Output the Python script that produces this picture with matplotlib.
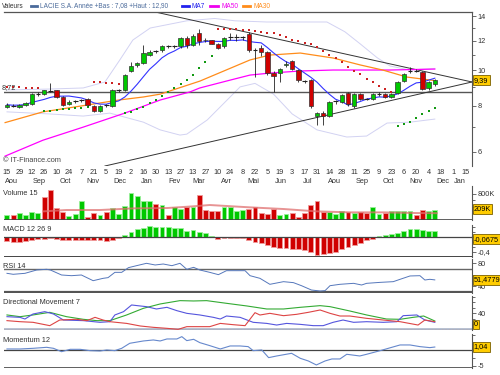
import numpy as np
import pandas as pd
import matplotlib
matplotlib.use("Agg")
import matplotlib.pyplot as plt
from matplotlib.lines import Line2D
from matplotlib.transforms import blended_transform_factory

# =========================
# GEOMETRY (pixels)
# =========================
W, H = 500, 375
LEFT, RIGHT = 4, 472
XMIN, XMAX = -0.48, 75.0

plt.rcParams["font.family"] = ["Liberation Sans", "DejaVu Sans"]
FS = 5.3
FS_TOP = 4.7

# =========================
# DATA (weekly, from 2005-08-15)
# =========================
START = np.datetime64("2005-08-15")

opens = [7.95, 8.0, 7.95, 8.05, 8.1, 8.6, 8.6, 8.8, 8.8, 8.45,
         8.1, 8.22, 8.25, 8.35, 8.0, 7.75, 8.0, 8.0, 8.8, 8.8,
         9.95, 10.3, 10.45, 11.0, 11.25, 11.3, 11.6, 11.6, 11.6, 12.25,
         11.7, 12.6, 12.05, 12.05, 11.8, 11.6, 12.28, 12.3, 12.3, 12.5,
         11.33, 11.5, 11.2, 9.8, 9.8, 10.3, 10.6, 10.0, 9.35, 9.4,
         7.5, 7.65, 7.5, 8.2, 8.2, 8.65, 8.0, 8.6, 8.35, 8.35,
         8.6, 8.6, 8.45, 8.65, 9.35, 9.9, 9.95, 9.9, 8.95, 9.15]
highs = [8.15, 8.1, 8.1, 8.2, 8.65, 8.7, 8.85, 9.25, 8.85, 8.5,
         8.3, 8.3, 8.35, 8.4, 8.05, 8.05, 8.1, 8.9, 8.9, 9.75,
         10.5, 10.5, 11.7, 11.3, 11.35, 11.7, 11.7, 11.7, 12.3, 12.35,
         12.5, 12.9, 12.2, 12.1, 11.85, 12.3, 12.6, 12.5, 12.4, 12.7,
         11.5, 11.7, 11.25, 9.95, 10.1, 10.6, 10.65, 10.05, 9.4, 9.45,
         7.7, 7.75, 8.25, 8.3, 8.6, 8.7, 8.65, 8.65, 8.4, 8.65,
         8.7, 8.65, 8.65, 9.35, 9.8, 10.2, 10.05, 9.95, 9.35, 9.45]
lows = [7.9, 7.95, 7.9, 8.0, 8.05, 8.5, 8.55, 8.7, 8.4, 8.0,
        8.05, 8.15, 8.2, 8.0, 7.7, 7.7, 7.95, 7.95, 8.7, 8.75,
        9.9, 10.2, 10.4, 10.9, 11.15, 11.2, 11.5, 11.5, 11.5, 11.5,
        11.6, 11.7, 11.95, 11.75, 11.4, 11.5, 12.1, 12.0, 12.1, 11.2,
        9.6, 10.9, 9.7, 8.7, 9.3, 10.2, 10.0, 9.3, 9.2, 7.9,
        7.1, 7.08, 7.45, 8.1, 8.15, 8.0, 7.9, 8.3, 8.3, 8.3,
        8.5, 8.4, 8.4, 8.6, 9.3, 9.8, 9.85, 8.85, 8.8, 9.05]
closes = [8.05, 8.0, 8.05, 8.15, 8.6, 8.62, 8.8, 8.78, 8.45, 8.05,
          8.2, 8.25, 8.27, 8.05, 7.75, 8.0, 8.02, 8.8, 8.82, 9.7,
          10.25, 10.45, 11.1, 11.2, 11.25, 11.6, 11.62, 11.62, 12.2, 11.7,
          12.4, 12.0, 12.1, 11.8, 11.5, 12.2, 12.3, 12.3, 12.3, 11.3,
          11.35, 11.2, 9.8, 9.65, 10.05, 10.4, 10.05, 9.4, 9.35, 8.0,
          7.65, 7.5, 8.2, 8.22, 8.55, 8.1, 8.6, 8.35, 8.36, 8.6,
          8.62, 8.45, 8.6, 9.3, 9.75, 9.92, 9.95, 8.9, 9.3, 9.39]

# moving averages / bands read as (week, value) points
ma30_weeks = [-0.3, 5.8, 12.0, 18.0, 22.0, 24.7, 31.1, 39.2, 42.4, 47.3, 52.6, 57.0, 60.6, 64.5, 69.0]
ma30_vals = [7.2, 7.7, 7.99, 8.29, 8.45, 8.6, 9.33, 10.65, 10.98, 11.12, 10.78, 10.32, 10.0, 9.57, 9.36]
ma50_weeks = [-0.3, 5.8, 12.3, 19.0, 24.7, 29.5, 31.1, 36.0, 39.2, 42.4, 47.3, 52.6, 61.8, 69.0]
ma50_vals = [5.84, 6.45, 7.0, 7.64, 8.29, 8.72, 8.94, 9.39, 9.69, 9.81, 9.94, 10.0, 10.0, 10.06]
bb_up_weeks = [0, 6.9, 12.3, 15.8, 18.2, 20.3, 23.1, 29.0, 33.5, 36.8, 41.9, 47.3, 51.6, 54.5, 56.9, 59.7, 61.8, 65.0, 69.0]
bb_up_vals = [8.83, 8.88, 8.94, 9.28, 10.65, 12.06, 13.0, 13.6, 13.8, 13.6, 13.5, 13.5, 13.5, 12.7, 11.8, 10.8, 10.25, 10.0, 10.1]
bb_lo_weeks = [0, 6.9, 12.3, 16.6, 22.0, 24.7, 27.9, 29.0, 32.3, 35.5, 37.6, 40.0, 43.0, 46.0, 50.0, 54.8, 58.0, 61.3, 65.0, 69.0]
bb_lo_vals = [7.7, 7.6, 7.5, 7.64, 7.22, 6.88, 6.66, 6.7, 7.32, 8.29, 9.0, 9.2, 8.6, 7.6, 6.88, 6.58, 6.62, 7.18, 7.22, 7.36]

# parabolic SAR
sar_bear_weeks = [0, 1, 2, 3, 4, 5, 14, 15, 16, 17, 18] + list(range(34, 63))
sar_bear_vals = [9.0, 9.0, 8.98, 8.96, 8.94, 8.92, 9.28, 9.26, 9.24, 9.22, 9.18,
                 12.95, 12.93, 12.91, 12.89, 12.87,
                 12.84, 12.76, 12.7, 12.63, 12.58, 12.45, 12.31, 12.06, 12.01, 11.86,
                 11.74, 11.52, 11.26, 10.98, 10.8, 10.53, 10.21, 9.96, 9.75, 9.45,
                 9.26, 9.05, 8.86, 8.72]
sar_bull_weeks = list(range(6, 14)) + list(range(19, 34)) + list(range(63, 70))
sar_bull_vals = [7.72, 7.74, 7.78, 7.82, 7.86, 7.88, 7.9, 7.92,
                 7.64, 7.69, 7.84, 7.94, 8.14, 8.29, 8.5, 8.72, 8.94, 9.16, 9.4, 9.7, 10.1, 10.5, 10.9,
                 7.05, 7.14, 7.22, 7.41, 7.6, 7.74, 7.89]

# trend lines (week, price) and support level
trend_down_weeks = [23.9, 75.0]
trend_down_vals = [14.37, 9.28]
trend_up_weeks = [15.8, 75.0]
trend_up_vals = [5.49, 9.28]
support_level = 8.72

# volume (thousands)
volume_k = [153, 153, 214, 163, 235, 214, 697, 933, 368, 255,
            132, 184, 574, 81, 214, 153, 255, 368, 184, 420,
            820, 727, 594, 594, 491, 471, 153, 389, 338, 389,
            389, 768, 317, 266, 266, 389, 389, 266, 307, 338,
            389, 214, 184, 338, 153, 184, 204, 102, 214, 471,
            594, 235, 235, 184, 286, 235, 204, 235, 204, 389,
            184, 204, 286, 286, 286, 266, 163, 317, 286, 317]
volume_dir = ("grggggrrrrgggrrgrggg"
              "ggggrgrggrgrrrrggggr"
              "rrrrggrrrrrrgggrgrrg"
              "grggggrrgg")
vol_ma_weeks = [5.9, 9.6, 15, 20.4, 25.8, 30, 32.7, 39.2, 44.6, 49.9, 55.3, 60.7, 66.1, 69.3]
vol_ma_k = [266, 307, 307, 358, 368, 420, 461, 389, 338, 266, 235, 235, 214, 209]

macd = [-0.115, -0.131, -0.131, -0.115, -0.087, -0.069, -0.060, -0.042, -0.060, -0.087,
        -0.087, -0.087, -0.087, -0.087, -0.087, -0.087, -0.105, -0.087, -0.042, 0.045,
        0.116, 0.196, 0.241, 0.285, 0.268, 0.268, 0.250, 0.223, 0.223, 0.161,
        0.179, 0.134, 0.089, 0.010, -0.069, -0.025, -0.025, -0.025, -0.042, -0.087,
        -0.13, -0.18, -0.22, -0.27, -0.29, -0.31, -0.32, -0.34, -0.36, -0.42,
        -0.49, -0.47, -0.44, -0.40, -0.33, -0.27, -0.22, -0.16, -0.10, -0.05,
        0.03, 0.04, 0.07, 0.11, 0.16, 0.20, 0.21, 0.17, 0.15, 0.15]

rsi_weeks = [0, 1.0, 2.9, 4.8, 6.4, 7.0, 8.8, 10.4, 12.0, 13.9, 15.5, 16.3, 17.4, 18.5, 19.6,
             20.9, 22.5, 23.9, 25.2, 26.6, 27.9, 29.0, 30.1, 31.1, 32.7, 34.1, 35.4, 38.4, 39.2,
             40.8, 42.4, 44.6, 46.2, 47.5, 49.1, 50.5, 51.3, 52.1, 53.7, 55.9, 57.2, 58.0, 60.2,
             62.3, 63.4, 65.0, 66.6, 67.4, 68.2, 69.0]
rsi_vals = [62.9, 61.2, 62.9, 68.7, 69.9, 68.7, 60.0, 58.8, 60.0, 50.1, 54.2, 55.4, 64.6, 64.6, 72.8,
            76.2, 80.3, 77.4, 79.1, 76.2, 80.3, 69.9, 73.3, 68.7, 64.6, 60.6, 67.5, 67.5, 58.8,
            54.2, 43.8, 48.4, 46.7, 41.4, 33.9, 32.2, 32.8, 41.4, 43.8, 45.5, 42.6, 45.5, 47.2,
            48.4, 52.5, 58.3, 58.8, 51.3, 52.5, 51.48]

dm_adx_weeks = [0, 2.1, 4.2, 6.9, 9.6, 12.3, 14.5, 16.6, 19.3, 22.0, 24.7, 27.9, 30.1, 32.2, 35.4,
                38.7, 41.9, 44.6, 47.3, 50.5, 52.1, 55.3, 58.0, 61.2, 63.4, 65.5, 67.2, 69.0]
dm_adx_vals = [36.0, 31.9, 36.0, 42.3, 31.9, 25.6, 22.4, 22.4, 36.0, 51.9, 62.3, 70.3, 69.5, 70.3, 63.9,
               57.5, 50.3, 50.3, 54.3, 58.3, 55.9, 45.5, 36.0, 26.3, 25.6, 30.3, 33.5, 21.6]
dm_plus_weeks = [0, 2.1, 2.9, 4.2, 6.1, 7.5, 9.1, 12.3, 15.0, 16.6, 17.4, 18.8, 20.1, 21.5, 22.5,
                 24.1, 25.8, 27.4, 29.0, 31.1, 33.3, 34.4, 35.4, 37.6, 39.7, 41.9, 43.5, 45.1, 47.3,
                 49.4, 51.0, 52.6, 54.2, 55.9, 58.0, 60.7, 62.9, 63.9, 66.1, 67.4, 69.0]
dm_plus_vals = [31.9, 30.3, 26.3, 38.3, 43.9, 38.3, 23.9, 22.4, 18.4, 19.9, 36.0, 43.9, 59.9, 57.5, 55.9,
                50.3, 54.3, 46.3, 39.9, 36.0, 30.3, 26.3, 33.5, 30.3, 18.4, 15.8, 11.9, 15.8, 13.5,
                10.4, 10.4, 18.4, 23.9, 18.4, 19.9, 18.4, 19.9, 34.3, 36.0, 23.9, 18.4]
dm_minus_weeks = [0, 2.1, 4.2, 6.9, 8.5, 11.2, 12.9, 14.2, 15.5, 16.6, 19.3, 21.5, 23.6, 25.8, 27.6,
                  29.0, 31.1, 32.7, 34.4, 36.5, 38.4, 40.0, 40.8, 42.4, 44.6, 46.7, 48.6, 50.5, 52.1,
                  53.7, 55.3, 58.0, 60.7, 63.4, 66.3, 67.4, 69.0]
dm_minus_vals = [22.4, 19.9, 18.4, 10.4, 23.9, 25.6, 22.4, 30.3, 23.9, 19.9, 15.8, 9.6, 6.4, 4.0, 1.6,
                 8.0, 8.0, 8.0, 15.8, 12.7, 10.4, 41.5, 35.9, 39.9, 34.3, 37.5, 42.3, 47.9, 39.9,
                 33.5, 33.5, 27.9, 23.9, 19.9, 11.9, 23.9, 19.9]

mom_weeks = [0, 2.1, 4.2, 6.4, 7.5, 8.8, 10.2, 11.8, 13.4, 15.0, 16.1, 17.4, 18.5, 19.8, 22.0,
             23.6, 24.7, 25.8, 27.4, 28.2, 29.0, 30.1, 31.1, 32.7, 34.4, 36.0, 37.6, 38.9, 39.7,
             41.1, 42.2, 43.5, 45.9, 47.3, 48.6, 49.9, 51.3, 52.4, 53.7, 54.8, 56.9, 58.0, 60.2,
             61.5, 63.4, 65.0, 66.6, 68.2, 69.0]
mom_vals = [0.42, 0.42, 0.63, 0.95, 0.63, -0.44, 0.31, 0.31, -0.11, -0.22, 0.10, -0.11, 0.63, 2.23, 2.97,
            3.29, 2.97, 3.61, 3.61, 4.35, 3.08, 3.50, 2.44, 1.49, 0.42, 1.38, 1.38, 1.17, -0.11,
            0.10, -2.34, -1.81, -0.96, -2.55, -3.40, -4.67, -3.40, -2.76, -2.76, -1.27, -1.81, -1.27, -0.11,
            0.63, 1.70, 1.70, 1.17, 0.85, 1.04]

MONTHS_FR = ["Jan", "Fev", "Mar", "Avr", "Mai", "Jun", "Jul", "Aou", "Sep", "Oct", "Nov", "Dec"]

# colours
GREEN, RED = "#00c800", "#d00000"
AXIS = "#555555"
TXT = "#333333"
BAND = "#d2d2f2"


def fx(x):
    return x / W


def fy(y):
    return 1 - y / H


def panel(fig, top, bottom):
    ax = fig.add_axes([fx(LEFT), fy(bottom), (RIGHT - LEFT) / W, (bottom - top) / H])
    ax.set_xlim(XMIN, XMAX)
    for s in ["left", "top", "bottom"]:
        ax.spines[s].set_visible(False)
    ax.spines["right"].set_color(AXIS)
    ax.spines["right"].set_linewidth(0.8)
    ax.yaxis.tick_right()
    ax.tick_params(axis="y", which="both", direction="out", colors=AXIS,
                   labelcolor=TXT, labelsize=FS, pad=1, width=0.6)
    ax.tick_params(axis="y", which="major", length=3)
    ax.tick_params(axis="y", which="minor", length=2)
    ax.set_xticks([])
    ax.patch.set_alpha(0)
    return ax


def value_box(ax, y, text, data=True):
    tr = blended_transform_factory(ax.transAxes, ax.transData if data else ax.transAxes)
    ax.text(1.004, y, text, transform=tr, fontsize=FS, va="center", ha="left", color="#000",
            bbox=dict(boxstyle="square,pad=0.18", fc="#ffcc00", ec="#7a6000", lw=0.6),
            clip_on=False, zorder=10)


def bars(ax, vals, colors, width=0.8):
    x = np.arange(len(vals))
    face = [GREEN if c == "g" else RED for c in colors]
    edge = ["#9af09a" if c == "g" else "#f09a9a" for c in colors]
    ax.bar(x, vals, width=width, color=face, edgecolor=edge, linewidth=0.6, zorder=2)


# =========================
# FIGURE
# =========================
fig = plt.figure(figsize=(W / 100, H / 100), dpi=100)

# ---- main price panel ----
ax = panel(fig, 12, 166)
ax.set_yscale("log")
ax.set_ylim(5.49, 14.37)
ax.spines["top"].set_visible(True)
ax.spines["top"].set_color(AXIS)
ax.spines["top"].set_linewidth(0.9)
ax.set_yticks([6, 8, 10, 12, 14])
ax.set_yticklabels(["6", "8", "10", "12", "14"])
ax.set_yticks([7, 9, 11, 13], minor=True)
ax.set_yticklabels([], minor=True)

ax.plot(bb_up_weeks, bb_up_vals, color=BAND, lw=0.7, zorder=1)
ax.plot(bb_lo_weeks, bb_lo_vals, color=BAND, lw=0.7, zorder=1)
ax.axhline(support_level, color="#555", lw=1.0, zorder=1)
ax.plot(trend_down_weeks, trend_down_vals, color="#333", lw=0.7, zorder=2)
ax.plot(trend_up_weeks, trend_up_vals, color="#333", lw=0.7, zorder=2)
ax.plot(ma50_weeks, ma50_vals, color="#ff00ff", lw=0.9, zorder=3)
ax.plot(ma30_weeks, ma30_vals, color="#ff8c1a", lw=0.9, zorder=3)
ma7 = pd.Series(closes).rolling(7, min_periods=1).mean()
ax.plot(np.arange(len(closes)), ma7, color="#3333ff", lw=0.8, zorder=3)

ax.plot(sar_bear_weeks, sar_bear_vals, ls="none", marker="s", ms=2.1, color="#cc2222", mew=0, zorder=4)
ax.plot(sar_bull_weeks, sar_bull_vals, ls="none", marker="s", ms=2.1, color="#119911", mew=0, zorder=4)

for i, (o, h, l, c) in enumerate(zip(opens, highs, lows, closes)):
    ax.vlines(i, l, h, color="#222", lw=0.6, zorder=5)
    if abs(c - o) / o < 0.004:
        ax.hlines(c, i - 0.38, i + 0.38, color="#222", lw=0.8, zorder=6)
    else:
        ax.bar(i, abs(c - o), bottom=min(o, c), width=0.72,
               color=GREEN if c > o else RED, edgecolor="#333", lw=0.5, zorder=6)

value_box(ax, closes[-1], "9,39")

# date axis
tick_weeks = np.arange(0, 75, 2)
tick_dates = START + tick_weeks * 7
day_labels = [str(int(str(d)[8:10])) for d in tick_dates.astype("datetime64[D]")]
trx = blended_transform_factory(ax.transData, ax.transAxes)
for wk, lab in zip(tick_weeks, day_labels):
    ax.text(wk, (166 - 172.5) / 154, lab, transform=trx, fontsize=FS, ha="center", va="center", color=TXT)

months = np.arange(np.datetime64("2005-08"), np.datetime64("2007-02"))
for m in months:
    mid = m.astype("datetime64[D]") + 19
    wk = min((mid - START).astype(int) / 7, 73.0)
    ax.text(wk, (166 - 181.5) / 154, MONTHS_FR[int(str(m)[5:7]) - 1], transform=trx,
            fontsize=FS, ha="center", va="center", color=TXT)

# ---- volume ----
axv = panel(fig, 186, 220)
axv.set_ylim(0, 1046)
bars(axv, volume_k, volume_dir)
axv.plot(vol_ma_weeks, vol_ma_k, color="#e07070", lw=1.4, alpha=0.75, zorder=3)
axv.axhline(0, color="#444", lw=1.2, zorder=4)
axv.set_yticks([800])
axv.set_yticklabels(["800K"])
axv.set_yticks([200, 400, 600], minor=True)
value_box(axv, 0.32, "209K", data=False)

# ---- MACD ----
axm = panel(fig, 225, 257)
axm.set_ylim(-0.541, 0.312)
bars(axm, macd, ["g" if v > 0 else "r" for v in macd])
axm.axhline(0, color="#444", lw=0.9, zorder=4)
axm.axhline(-0.541, color="#444", lw=1.4, zorder=4)
axm.set_yticks([-0.4])
axm.set_yticklabels(["-0,4"])
axm.set_yticks([0.267, 0.133, 0.0, -0.133, -0.267], minor=True)
value_box(axm, -0.0675, "-0,0675")

# ---- RSI ----
axr = panel(fig, 259, 293)
axr.set_ylim(28.7, 87.8)
axr.axhline(70, color="#666", lw=1.0, zorder=1)
axr.axhline(30, color="#555", lw=1.6, zorder=1)
axr.plot(rsi_weeks, rsi_vals, color="#5577bb", lw=0.7, zorder=3)
axr.set_yticks([80, 40])
axr.set_yticklabels(["80", "40"])
axr.set_yticks([60], minor=True)
value_box(axr, rsi_vals[-1], "51,4779")

# ---- directional movement ----
axd = panel(fig, 296, 330)
axd.set_ylim(0, 81.4)
axd.plot(dm_adx_weeks, dm_adx_vals, color="#33aa33", lw=0.8, zorder=3)
axd.plot(dm_plus_weeks, dm_plus_vals, color="#5555dd", lw=0.8, zorder=3)
axd.plot(dm_minus_weeks, dm_minus_vals, color="#dd4444", lw=0.8, zorder=3)
axd.axhline(0, color="#aab4c8", lw=2.6, zorder=2)
axd.axhline(0, color="#e0a080", lw=1.0, ls=(0, (1, 1.5)), zorder=2)
axd.set_yticks([40])
axd.set_yticklabels(["40"])
axd.set_yticks([13.3, 26.7, 53.3, 66.7, 80], minor=True)
value_box(axd, 0.16, "0", data=False)

# ---- momentum ----
axo = panel(fig, 334, 368)
axo.set_ylim(-5.64, 5.19)
axo.axhline(0, color="#444", lw=0.9, zorder=1)
axo.axhline(-5.64, color="#444", lw=1.2, zorder=1)
axo.plot(mom_weeks, mom_vals, color="#6688cc", lw=0.8, zorder=3)
axo.set_yticks([-5])
axo.set_yticklabels(["-5"])
axo.set_yticks([5, 2.5, 0, -2.5], minor=True)
value_box(axo, mom_vals[-1], "1,04")

# ---- texts ----
fig.text(fx(2), fy(6), "Valeurs", fontsize=FS_TOP, color=TXT, va="center")
legend_items = [
    (31, 37, 40, "LACIE S.A.", "#4a6a9a"),
    (182, 189, 191, "MA7", "#2222ee"),
    (210, 218, 221, "MA50", "#ee00ee"),
    (243, 250, 253, "MA30", "#ff8c1a"),
]
for x0, x1, xt, lab, col in legend_items:
    fig.add_artist(Line2D([fx(x0), fx(x1)], [fy(6), fy(6)], color=col, lw=2.0))
    fig.text(fx(xt), fy(6), lab, fontsize=FS_TOP, color=col, va="center")
fig.text(fx(74), fy(6), "Année +Bas : 7,08 +Haut : 12,90", fontsize=FS_TOP, color="#4a6a9a", va="center")

fig.text(fx(2), fy(88), "8,72", fontsize=FS, color=TXT, va="center")
fig.text(fx(3), fy(161), "© IT-Finance.com", fontsize=FS, color="#444", va="center")

panel_titles = [(193, "Volume 15"), (230, "MACD 12 26 9"), (266, "RSI 14"),
                (303, "Directional Movement 7"), (340, "Momentum 12")]
for y, lab in panel_titles:
    fig.text(fx(3), fy(y), lab, fontsize=FS, color=TXT, va="center")

fig.savefig("out.png", dpi=100, facecolor="white")
